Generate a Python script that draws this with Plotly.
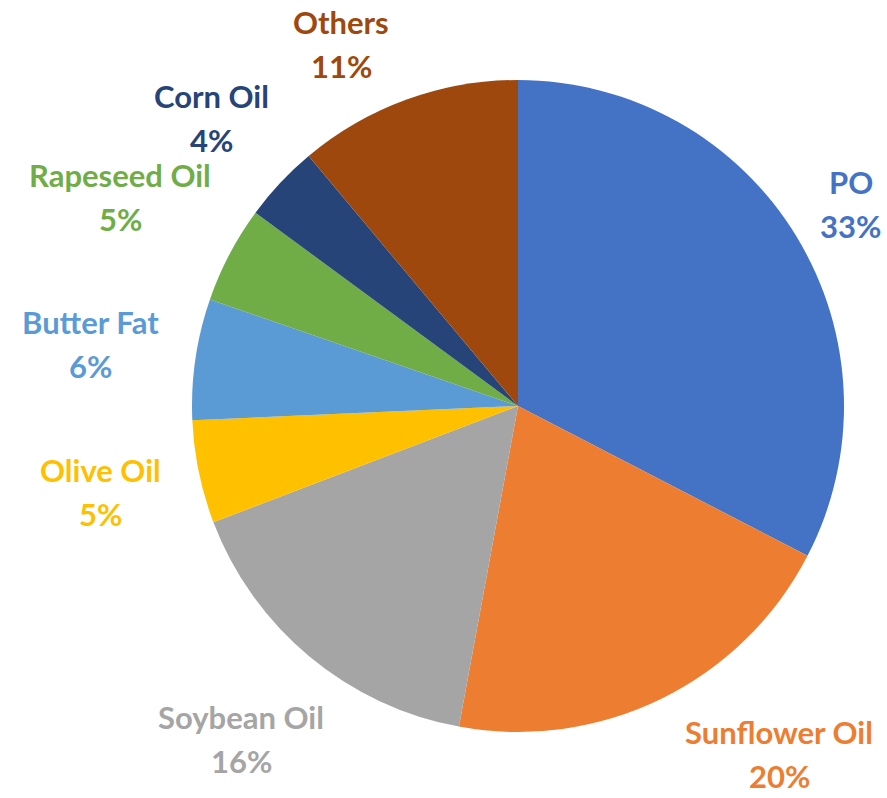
import math
import plotly.graph_objects as go

# ---- data ----
labels = ["PO", "Sunflower Oil", "Soybean Oil", "Olive Oil", "Butter Fat",
          "Rapeseed Oil", "Corn Oil", "Others"]
values = [32.6, 20.3, 16.3, 5.1, 6.0, 4.8, 3.8, 11.1]
colors = ["#4472C4", "#ED7D31", "#A5A5A5", "#FFC000", "#5B9BD5",
          "#70AD47", "#264478", "#9E480E"]

# ---- layout geometry (pixels) ----
W, H = 887, 798
CX, CY, R = 518, 406, 326
FS = 31
LINE_GAP = 44
GAP = 25
CHAR_W = 15.4
FONT = "Lato, 'Open Sans', sans-serif"

fig = go.Figure(go.Pie(
    labels=labels, values=values, sort=False, direction="clockwise",
    rotation=0, marker=dict(colors=colors, line=dict(width=0)),
    textinfo="none", hoverinfo="label+percent", showlegend=False,
    domain=dict(x=[(CX - R) / W, (CX + R) / W],
                y=[1 - (CY + R) / H, 1 - (CY - R) / H]),
))

total = sum(values)
cum = 0.0
annotations = []


def box_dist(cx, cy, w, h):
    nx = min(max(CX, cx - w / 2), cx + w / 2)
    ny = min(max(CY, cy - h / 2), cy + h / 2)
    return math.hypot(nx - CX, ny - CY)


for lab, val, col in zip(labels, values, colors):
    frac = val / total
    mid = (cum + frac / 2) * 2 * math.pi
    cum += frac
    ux, uy = math.sin(mid), -math.cos(mid)
    pct = f"{round(frac * 100)}%"
    w = max(len(lab), len(pct)) * CHAR_W
    h = LINE_GAP + 28
    sup = abs(ux) * w / 2 + abs(uy) * h / 2
    r = R + GAP + sup
    lx, ly = CX + r * ux, CY + r * uy
    # keep inside figure (text boxes are taller than the glyphs)
    edge = LINE_GAP / 2 + 22
    ly = min(max(ly, edge), H - edge)
    lx = min(max(lx, w / 2 + 2), W - w / 2 - 2)
    # push outwards horizontally if too close to pie
    sx = 1 if ux >= 0 else -1
    it = 0
    while box_dist(lx, ly, w, h) < R + GAP and it < 400:
        lx += sx
        it += 1
    for txt, dy in ((lab, -LINE_GAP / 2), (pct, LINE_GAP / 2)):
        annotations.append(dict(
            x=lx / W, y=1 - (ly + dy) / H, xref="paper", yref="paper",
            text=f"<b>{txt}</b>", showarrow=False, xanchor="center",
            yanchor="middle", font=dict(family=FONT, size=FS, color=col)))

fig.update_layout(
    width=W, height=H, margin=dict(l=0, r=0, t=0, b=0),
    paper_bgcolor="white", plot_bgcolor="white",
    annotations=annotations,
)

fig.write_html("out.html", config={"displayModeBar": False},
               post_script="document.body.style.margin='0';")
